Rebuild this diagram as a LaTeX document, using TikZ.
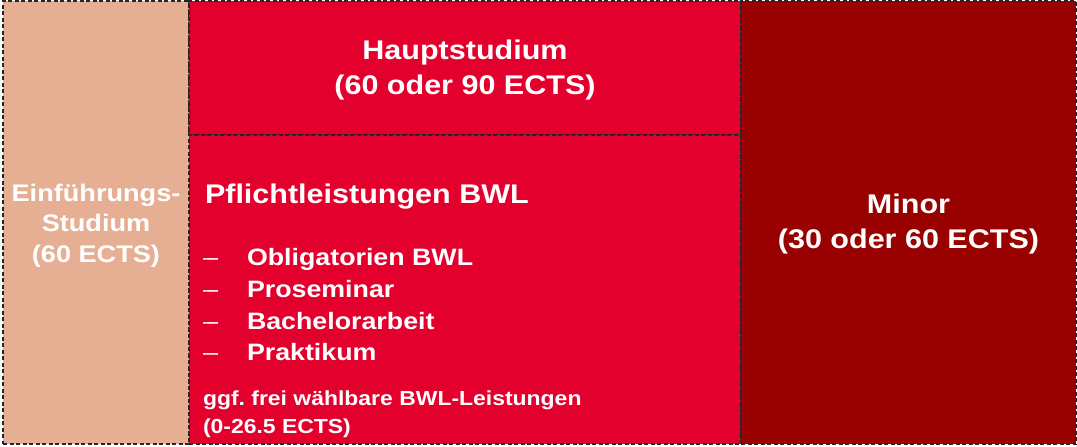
\documentclass[tikz,border=0pt]{standalone}
\usepackage{fontspec}
\setmainfont{Liberation Sans}[FakeStretch=1.13]
\usepackage{tikz}
\definecolor{einfcolor}{HTML}{E6AF94}
\definecolor{hauptcolor}{HTML}{E4002C}
\definecolor{minorcolor}{HTML}{990000}
\frenchspacing

\begin{document}
\begin{tikzpicture}[x=1pt, y=-1pt, every node/.style={text=white, inner sep=0pt, outer sep=0pt},
  box/.style={draw=black!85, dash pattern=on 4pt off 2.5pt, line width=1.2pt, anchor=north west},
  title/.style={align=center, font=\bfseries\fontsize{27}{35}\selectfont}]
\useasboundingbox (0,0) rectangle (1077,447);
\node[box, fill=einfcolor, minimum width=186pt, minimum height=443pt] (einf) at (3,1) {};
\node[box, fill=hauptcolor, minimum width=552pt, minimum height=134pt] (haupt) at (189,1) {};
\node[box, fill=hauptcolor, minimum width=552pt, minimum height=309pt] (pflicht) at (189,135) {};
\node[box, fill=minorcolor, minimum width=335pt, minimum height=443pt] (minor) at (741,1) {};
\node[title, font=\bfseries\fontsize{24}{30.5}\selectfont, yshift=-3pt] (einftext) at (einf.center) {Einführungs-\\Studium\\(60 ECTS)};
\node[title, yshift=-2pt] (haupttext) at (haupt.center) {Hauptstudium\\(60 oder 90 ECTS)};
\node[title, yshift=-2pt] (minortext) at (minor.center) {Minor\\(30 oder 60 ECTS)};
\node[anchor=base west, font=\bfseries\fontsize{27}{30}\selectfont] (titel) at (205,203) {Pflichtleistungen BWL};
\node[anchor=base west, font=\fontsize{24}{30}\selectfont] (d1) at (203,265) {--};
\node[anchor=base west, font=\bfseries\fontsize{23.7}{30}\selectfont] (obl) at (247,265) {Obligatorien BWL};
\node[anchor=base west, font=\fontsize{24}{30}\selectfont] (d2) at (203,297) {--};
\node[anchor=base west, font=\bfseries\fontsize{23.7}{30}\selectfont] (pro) at (247,297) {Proseminar};
\node[anchor=base west, font=\fontsize{24}{30}\selectfont] (d3) at (203,329) {--};
\node[anchor=base west, font=\bfseries\fontsize{23.7}{30}\selectfont] (bach) at (247,329) {Bachelorarbeit};
\node[anchor=base west, font=\fontsize{24}{30}\selectfont] (d4) at (203,360) {--};
\node[anchor=base west, font=\bfseries\fontsize{23.7}{30}\selectfont] (prak) at (247,360) {Praktikum};
\node[anchor=base west, font=\bfseries\fontsize{20.3}{28}\selectfont] (frei) at (203,405) {ggf. frei wählbare BWL-Leistungen};
\node[anchor=base west, font=\bfseries\fontsize{20.3}{28}\selectfont] (ects) at (203,433) {(0-26.5 ECTS)};
\end{tikzpicture}
\end{document}
